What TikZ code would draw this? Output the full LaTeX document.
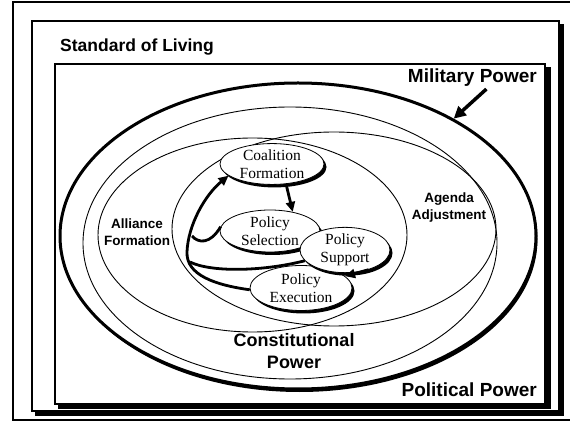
\documentclass[tikz,border=0pt]{standalone}
\usepackage{fontspec}
\setmainfont{Liberation Serif}
\setsansfont{Liberation Sans}
\usetikzlibrary{shapes.geometric,arrows.meta,shadows}
\begin{document}
\begin{tikzpicture}[x=1pt,y=-1pt,
  lbl/.style={font=\sffamily\bfseries, inner sep=0pt, align=center},
  pol/.style={ellipse, draw, line width=0.8pt, fill=white, inner sep=0pt, align=center,
    font=\fontsize{15.5}{18}\selectfont,
    drop shadow={fill=black, opacity=1, shadow xshift=2.5pt, shadow yshift=-3pt}},
  region/.style={ellipse, draw, line width=0.9pt, inner sep=0pt},
  flow/.style={line width=2.8pt, -{Triangle[length=10pt,width=9pt]}},
  link/.style={line width=2.8pt},
]
\useasboundingbox (0,0) rectangle (570,427);
\fill[white] (0,0) rectangle (570,427);
% outer frame
\draw[line width=1.2pt] (575,2) -- (13,2) -- (13,420) -- (575,420);
% standard of living box
\fill (35,410) rectangle (564,416);
\fill (558,24) rectangle (564,416);
\draw[line width=2.5pt] (32,21) rectangle (559,411);
% political power box
\fill (58,403) rectangle (551,409);
\fill (545,67) rectangle (551,409);
\draw[line width=2pt] (55,64) rectangle (545,404);
% military power ellipse
\node[ellipse, draw, line width=3pt, fill=white, inner sep=0pt, minimum width=476pt, minimum height=306pt,
  drop shadow={fill=black, opacity=1, shadow xshift=1.5pt, shadow yshift=-3pt}] (mil) at (298,236) {};
% thin regions
\node[region, minimum width=414pt, minimum height=272pt] (e2) at (290,243) {};
\node[region, minimum width=309pt, minimum height=194pt] (alli) at (252.5,235) {};
\node[region, minimum width=324pt, minimum height=194pt] (agen) at (334,229) {};
% labels
\node[lbl, anchor=west, font=\sffamily\bfseries\fontsize{17.5}{20}\selectfont] (sol) at (60,47) {Standard of Living};
\node[lbl, anchor=east, font=\sffamily\bfseries\fontsize{19}{22}\selectfont] (milp) at (537,78) {Military Power};
\node[lbl, anchor=east, font=\sffamily\bfseries\fontsize{19}{22}\selectfont] (polp) at (537,390) {Political Power};
\node[lbl, font=\sffamily\bfseries\fontsize{18}{22}\selectfont] (cons) at (294,351) {Constitutional\\Power};
\node[lbl, font=\sffamily\bfseries\fontsize{13.5}{17}\selectfont] (allil) at (137,232) {Alliance\\Formation};
\node[lbl, font=\sffamily\bfseries\fontsize{13.5}{17}\selectfont] (agenl) at (449,208) {Agenda\\Adjustment};
% military arrow
\draw[line width=3.5pt, -{Triangle[length=12pt,width=12pt]}] ([xshift=14pt,yshift=-2pt]milp.south) -- (mil.37);
% policy ellipses
\node[pol, minimum width=104pt, minimum height=38pt] (coal) at (272,164) {Coalition\\Formation};
\node[pol, minimum width=100pt, minimum height=42pt] (sel) at (270,231) {Policy\\Selection};
\node[pol, minimum width=102pt, minimum height=45pt] (exe) at (301,288) {Policy\\Execution};
\node[pol, minimum width=90pt, minimum height=40pt] (sup) at (345,250) {Policy\\Support};
% connectors
\coordinate (j1) at (190,262);
\coordinate (j2) at (192,236);
\draw[flow] (coal.-55) -- (sel.40);
\draw[flow] (sup.-40) -- (exe.15);
\draw[flow] (exe.182) .. controls (215,285) and (186,275) .. (187,252) .. controls (188,225) and (205,195) .. (coal.195);
\draw[link] (sup.195) .. controls (260,272) and (210,272) .. (j1);
\draw[link] (sel.175) .. controls (210,245) and (198,243) .. (j2);
\end{tikzpicture}
\end{document}
